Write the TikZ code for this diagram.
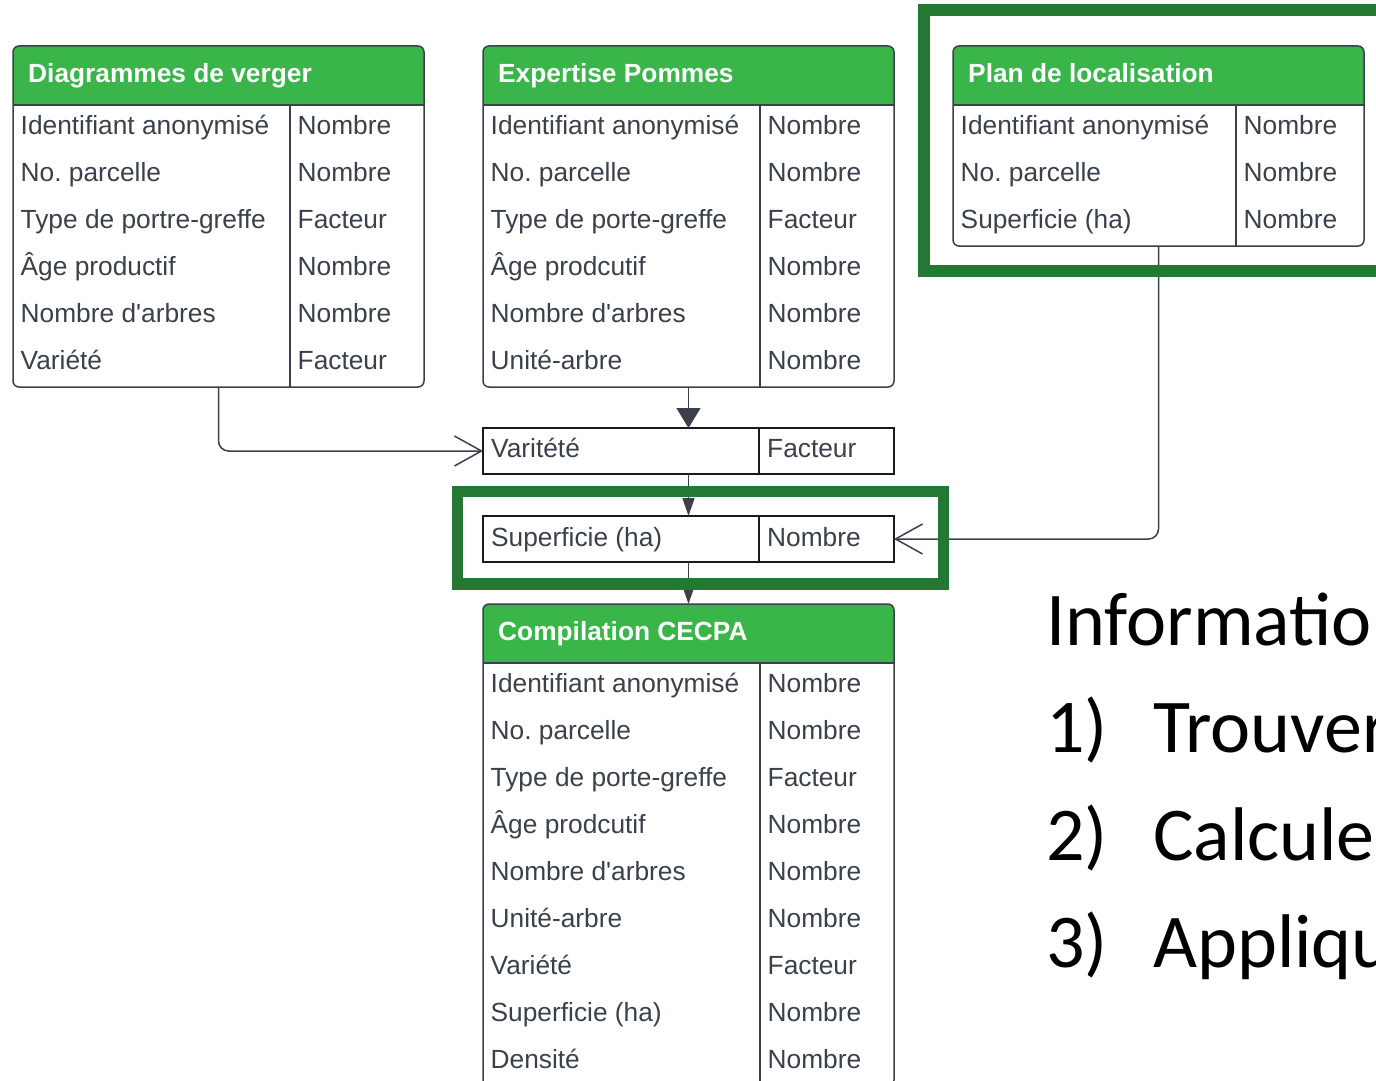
\documentclass[tikz,border=0pt]{standalone}
\usepackage{fontspec}
\setmainfont{Liberation Sans}
\newfontfamily\calfont{Carlito}
\usetikzlibrary{arrows.meta}
\definecolor{hdrgreen}{RGB}{57,181,74}
\definecolor{framegreen}{RGB}{36,120,51}
\definecolor{txtgray}{RGB}{58,65,74}
\definecolor{linegray}{RGB}{58,65,74}
\definecolor{boxblack}{RGB}{25,25,25}
\tikzset{
  tblbox/.style={draw=linegray, line width=1.5pt, rounded corners=6pt, minimum width=411pt, inner sep=0pt, outer sep=0pt},
  tblline/.style={draw=linegray, line width=1.5pt},
  fieldbox/.style={draw=boxblack, line width=1.8pt, minimum width=411pt, minimum height=46pt, inner sep=0pt, outer sep=0pt},
  fieldline/.style={draw=boxblack, line width=1.8pt},
  celltxt/.style={text=txtgray, font=\fontsize{26.3}{30}\selectfont, inner sep=0pt, anchor=base west},
  hdrtxt/.style={text=white, font=\fontsize{26.3}{30}\selectfont\bfseries, inner sep=0pt, anchor=base west},
  conn/.style={draw=linegray, line width=1.5pt},
  hiframe/.style={draw=framegreen, inner sep=0pt, outer sep=0pt},
  bigtxt/.style={font=\calfont\fontsize{76}{90}\selectfont, text=black, inner sep=0pt, anchor=base west},
  bigarrow/.style={-{Triangle[length=20pt,width=24pt]}},
  smallarrow/.style={-{Triangle[length=18pt,width=12pt]}},
  openarrow/.style={-{Straight Barb[length=27pt,width=30pt]}},
}
\newcommand\ertable[7]{%
  \begin{scope}
    \clip[rounded corners=6pt] (#2,#3) rectangle (#2+411,{#3+59+47*#4});
    \fill[hdrgreen] (#2,#3) rectangle (#2+411,#3+59);
  \end{scope}
  \node[tblbox, minimum height={59+47*#4}, anchor=north west] (#1) at (#2,#3) {};
  \draw[tblline] (#2,#3+59) -- (#2+411,#3+59);
  \draw[tblline] (#2+#5,#3+59) -- (#2+#5,{#3+59+47*#4});
  \node[hdrtxt] (#1-title) at (#2+15,#3+36) {#6};
  \foreach \a/\b [count=\i] in {#7} {
    \node[celltxt] (#1-\i-l) at ({#2+7.5},{#3+88+47*(\i-1)}) {\a};
    \node[celltxt] (#1-\i-r) at ({#2+#5+7.5},{#3+88+47*(\i-1)}) {\b};
  }
}
\begin{document}
\frenchspacing
\begin{tikzpicture}[x=1pt,y=-1pt]
\useasboundingbox (0,0) rectangle (1376,1081);
\clip (0,0) rectangle (1376,1081);
\fill[white] (0,0) rectangle (1376,1081);

\ertable{t1}{13}{46}{6}{277}{Diagrammes de verger}{Identifiant anonymisé/Nombre,No. parcelle/Nombre,Type de portre-greffe/Facteur,Âge productif/Nombre,Nombre d\textquotesingle arbres/Nombre,Variété/Facteur}
\ertable{t2}{483}{46}{6}{277}{Expertise Pommes}{Identifiant anonymisé/Nombre,No. parcelle/Nombre,Type de porte-greffe/Facteur,Âge prodcutif/Nombre,Nombre d\textquotesingle arbres/Nombre,Unité-arbre/Nombre}
\ertable{t3}{953}{46}{3}{283}{Plan de localisation}{Identifiant anonymisé/Nombre,No. parcelle/Nombre,{Superficie (ha)}/Nombre}
\ertable{t4}{483}{604}{9}{277}{Compilation CECPA}{Identifiant anonymisé/Nombre,No. parcelle/Nombre,Type de porte-greffe/Facteur,Âge prodcutif/Nombre,Nombre d\textquotesingle arbres/Nombre,Unité-arbre/Nombre,Variété/Facteur,{Superficie (ha)}/Nombre,Densité/Nombre}

\node[fieldbox, anchor=north west] (bv) at (483,428) {};
\draw[fieldline] (759,428) -- (759,474);
\node[celltxt] (bv-l) at (491,457) {Varitété};
\node[celltxt] (bv-r) at (767,457) {Facteur};

\node[fieldbox, anchor=north west] (bs) at (483,516) {};
\draw[fieldline] (759,516) -- (759,562);
\node[celltxt] (bs-l) at (491,546) {Superficie (ha)};
\node[celltxt] (bs-r) at (767,546) {Nombre};

\draw[conn, bigarrow] (t2.south) -- (bv.north);
\draw[conn, smallarrow] (bv.south) -- (bs.north);
\draw[conn, smallarrow] (bs.south) -- (t4.north);
\draw[conn, openarrow, rounded corners=10pt] (t1.south) |- (bv.west);
\draw[conn, openarrow, rounded corners=10pt] (t3.south) |- (bs.east);

\node[hiframe, line width=12pt, minimum width=500pt, minimum height=261pt, anchor=north west] (f1) at (924,10) {};
\node[hiframe, line width=11.5pt, minimum width=486pt, minimum height=92.5pt, anchor=north west] (f2) at (457.5,491.5) {};

\node[bigtxt] (info) at (1046,645) {Information};
\node[bigtxt] (n1) at (1046,752) {1)};
\node[bigtxt] (s1) at (1153,752) {Trouver};
\node[bigtxt] (n2) at (1046,860) {2)};
\node[bigtxt] (s2) at (1153,860) {Calcule};
\node[bigtxt] (n3) at (1046,967) {3)};
\node[bigtxt] (s3) at (1153,967) {Appliqu};
\end{tikzpicture}
\end{document}
